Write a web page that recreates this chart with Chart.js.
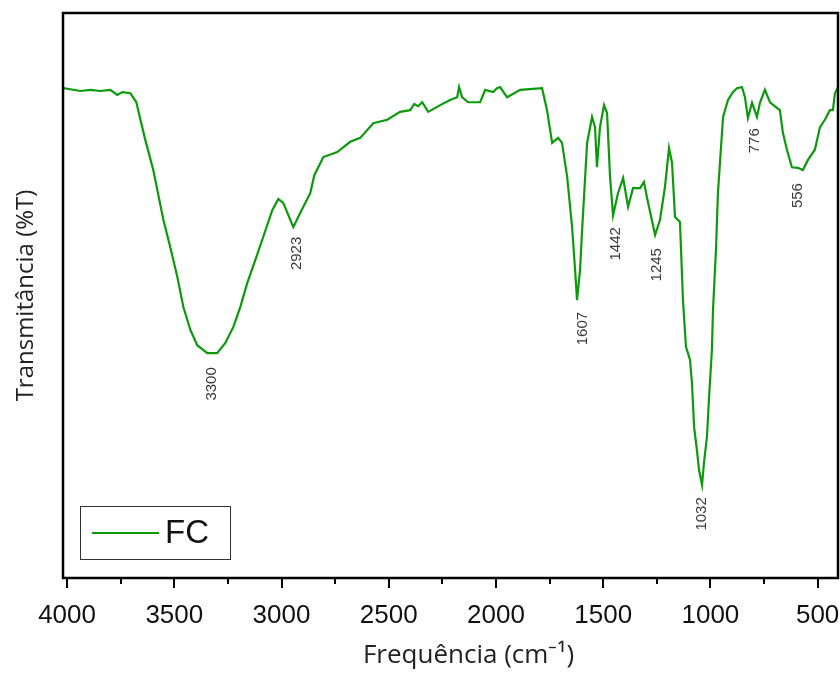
<!DOCTYPE html>
<html>
<head>
<meta charset="utf-8">
<script src="https://cdn.jsdelivr.net/npm/chart.js@4"></script>
<style>
  html, body { margin: 0; padding: 0; background: #fff; }
  #wrap { width: 840px; height: 673px; }
</style>
</head>
<body>
<div id="wrap"><canvas id="ftirChart"></canvas></div>
<script>
// FTIR espectro - FC
const wavenumber = [
  4017, 3985, 3938, 3891, 3845, 3798, 3766, 3742, 3705, 3677, 3658, 3635,
  3598, 3551, 3519, 3486, 3458, 3425, 3393, 3346, 3300, 3262, 3225, 3192,
  3160, 3122, 3085, 3043, 3015, 2992, 2945, 2913, 2866, 2847, 2805, 2740,
  2680, 2633, 2572, 2507, 2447, 2400, 2381, 2363, 2344, 2316, 2260, 2214,
  2181, 2172, 2158, 2130, 2074, 2050, 2013, 1995, 1981, 1948, 1887, 1785,
  1762, 1738, 1710, 1692, 1668, 1645, 1631, 1622, 1608, 1599, 1575, 1552,
  1538, 1529, 1515, 1496, 1482, 1468, 1454, 1431, 1407, 1384, 1361, 1328,
  1310, 1296, 1258, 1235, 1212, 1193, 1179, 1165, 1142, 1128, 1114, 1095,
  1086, 1076, 1063, 1053, 1039, 1030, 1016, 1007, 993, 988, 974, 965,
  941, 918, 895, 876, 853, 839, 825, 806, 783, 769, 746, 722,
  690, 676, 662, 643, 620, 592, 569, 545, 513, 489, 466, 443,
  429, 419, 405,
];
const transmittance = [
  86.7, 86.5, 86.2, 86.4, 86.2, 86.4, 85.5, 86.0, 85.8, 84.2, 81.1, 77.5,
  72.2, 63.4, 58.6, 53.3, 48.0, 43.9, 41.2, 39.8, 39.8, 41.6, 44.4, 48.0,
  52.2, 56.3, 60.4, 65.1, 67.1, 66.4, 62.1, 64.6, 68.1, 71.3, 74.5, 75.4,
  77.2, 77.9, 80.5, 81.1, 82.5, 82.8, 83.9, 83.5, 84.2, 82.5, 83.7, 84.6,
  85.1, 86.9, 85.1, 84.2, 84.2, 86.4, 86.0, 86.7, 86.9, 85.1, 86.4, 86.7,
  82.8, 77.0, 77.9, 77.0, 71.0, 62.1, 54.5, 49.2, 54.5, 61.1, 77.0, 81.6,
  79.8, 72.7, 79.8, 83.7, 82.3, 71.0, 64.2, 68.1, 70.8, 65.7, 69.0, 69.0,
  70.1, 67.4, 60.7, 63.4, 69.2, 76.1, 73.5, 63.9, 63.0, 49.2, 40.9, 38.6,
  34.5, 26.7, 22.7, 19.1, 16.5, 20.4, 25.0, 31.5, 40.4, 47.4, 58.1, 68.1,
  81.6, 84.6, 86.0, 86.7, 86.9, 85.1, 81.4, 84.1, 81.6, 84.1, 86.4, 84.2,
  83.2, 82.8, 78.8, 75.8, 72.7, 72.6, 72.2, 74.0, 75.8, 79.8, 81.1, 82.8,
  82.8, 85.8, 86.9,
];

// rótulos dos picos (posição em cm-1 e %T do topo do texto)
const peakLabels = ['3300', '2923', '1607', '1442', '1245', '1032', '776', '556'];
const peakX = [3323, 2927, 1594, 1440, 1249, 1039, 792, 592];
const peakY = [37.3, 60.4, 47.1, 62.1, 58.4, 14.3, 79.6, 69.9];

const xTicks = [4000, 3500, 3000, 2500, 2000, 1500, 1000, 500];
const minorTicks = [3750, 3250, 2750, 2250, 1750, 1250, 750];

const xTitle = 'Frequência (cm⁻¹)';
const green = '#0c9a0c';

const points = wavenumber.map((w, i) => ({ x: w, y: transmittance[i] }));

// moldura, ticks, rótulos dos picos, título x e legenda
const decorPlugin = {
  id: 'decor',
  afterDraw(chart) {
    const { ctx, chartArea: a, scales } = chart;
    const xs = scales.x;
    const ys = scales.y;
    ctx.save();
    ctx.strokeStyle = '#000';
    ctx.lineWidth = 2.5;
    ctx.strokeRect(a.left, a.top, a.right - a.left, a.bottom - a.top);

    // ticks do eixo x
    ctx.lineWidth = 2;
    xTicks.concat(minorTicks).forEach((v) => {
      const px = Math.round(xs.getPixelForValue(v));
      const len = xTicks.includes(v) ? 10 : 6;
      ctx.beginPath();
      ctx.moveTo(px, a.bottom);
      ctx.lineTo(px, a.bottom + len);
      ctx.stroke();
    });

    // rótulos dos picos
    ctx.fillStyle = '#3a3a3a';
    ctx.font = '15px "Liberation Sans", Arial, sans-serif';
    peakLabels.forEach((t, i) => {
      const px = xs.getPixelForValue(peakX[i]);
      const py = ys.getPixelForValue(peakY[i]);
      ctx.save();
      ctx.translate(px, py);
      ctx.rotate(-Math.PI / 2);
      ctx.textAlign = 'right';
      ctx.textBaseline = 'middle';
      ctx.fillText(t, 0, 0);
      ctx.restore();
    });

    // título do eixo x (um pouco à direita do centro, como no original)
    ctx.fillStyle = '#222';
    ctx.font = '26px "Open Sans", sans-serif';
    ctx.textAlign = 'center';
    ctx.textBaseline = 'middle';
    ctx.fillText(xTitle, (a.left + a.right) / 2 + 18, 656);

    // legenda
    const ds = chart.data.datasets[0];
    ctx.lineWidth = 1;
    ctx.strokeStyle = '#333';
    ctx.strokeRect(80.5, 506.5, 150, 53);
    ctx.strokeStyle = ds.borderColor;
    ctx.lineWidth = 2;
    ctx.beginPath();
    ctx.moveTo(92, 533);
    ctx.lineTo(159, 533);
    ctx.stroke();
    ctx.fillStyle = '#111';
    ctx.font = '33px "Liberation Sans", Arial, sans-serif';
    ctx.textAlign = 'left';
    ctx.fillText(ds.label, 165, 534);
    ctx.restore();
  },
};

const ctx = document.getElementById('ftirChart').getContext('2d');
new Chart(ctx, {
  type: 'line',
  data: {
    datasets: [
      {
        label: 'FC',
        data: points,
        borderColor: green,
        backgroundColor: green,
        borderWidth: 2.2,
        tension: 0,
        pointRadius: 0,
        fill: false,
      },
    ],
  },
  options: {
    responsive: true,
    maintainAspectRatio: false,
    animation: false,
    layout: { padding: { top: 13, right: 2, left: 0, bottom: 0 } },
    plugins: {
      legend: { display: false },
      tooltip: { enabled: false },
    },
    scales: {
      x: {
        type: 'linear',
        reverse: true,
        min: 405,
        max: 4019,
        afterBuildTicks: (scale) => {
          scale.ticks = xTicks.map((v) => ({ value: v }));
        },
        afterFit: (scale) => {
          scale.height = 95;
          scale.paddingLeft = 0;
          scale.paddingRight = 0;
        },
        grid: { display: false },
        border: { display: false },
        ticks: {
          color: '#111',
          padding: 14,
          maxRotation: 0,
          autoSkip: false,
          callback: (v) => String(v),
          font: { family: '"Liberation Sans", Arial, sans-serif', size: 26 },
        },
        title: { display: false },
      },
      y: {
        min: 0,
        max: 100,
        afterFit: (scale) => {
          scale.width = 63;
          scale.paddingTop = 0;
          scale.paddingBottom = 0;
        },
        grid: { display: false },
        border: { display: false },
        ticks: { display: false },
        title: {
          display: true,
          text: 'Transmitância (%T)',
          color: '#222',
          padding: { top: 12, bottom: 0 },
          font: { family: '"Open Sans", sans-serif', size: 24 },
        },
      },
    },
  },
  plugins: [decorPlugin],
});
</script>
</body>
</html>
